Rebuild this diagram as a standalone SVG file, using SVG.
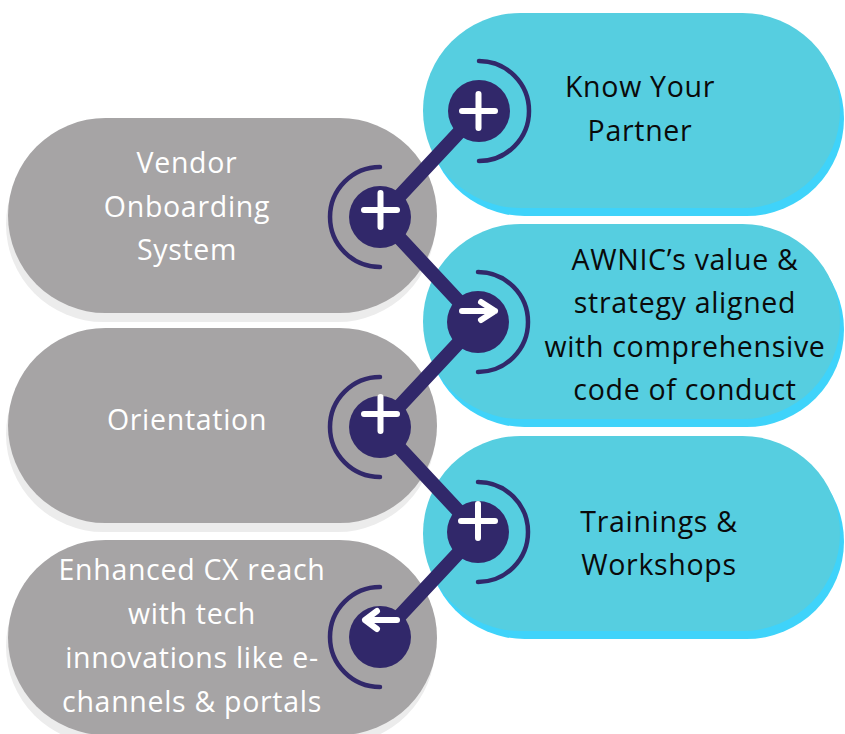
<svg xmlns="http://www.w3.org/2000/svg" width="845" height="734" viewBox="0 0 845 734">
<defs>
<style>
.cy{fill:#56CEE0}
.cys{fill:#3FD3FA}
.gr{fill:#A6A4A5}
.grs{fill:#ECECEC}
.dot{fill:#31286A}
.arc{fill:none;stroke:#31286A;stroke-width:4.5;stroke-linecap:round}
.link{stroke:#31286A;stroke-width:14;stroke-linecap:round}
.icon{fill:none;stroke:#FFFFFF;stroke-width:6;stroke-linecap:round;stroke-linejoin:round}
.tb{font-family:"Open Sans","Liberation Sans",sans-serif;font-size:28.5px;letter-spacing:0.7px;fill:#0A0A0A;text-anchor:middle}
.tw{font-family:"Open Sans","Liberation Sans",sans-serif;font-size:28.5px;letter-spacing:0.7px;fill:#FFFFFF;text-anchor:middle}
</style>
</defs>
<rect width="845" height="734" fill="#FFFFFF"/>

<g id="node-know-your-partner">
<rect class="cys" x="427" y="21" width="417" height="195" rx="97.5"/>
<rect class="cy" x="423" y="13" width="417" height="195" rx="97.5"/>
<text class="tb" x="640" y="97">Know Your</text>
<text class="tb" x="640" y="141">Partner</text>
</g>

<g id="node-awnic-value">
<rect class="cys" x="427" y="232" width="417" height="195" rx="97.5"/>
<rect class="cy" x="423" y="224" width="417" height="195" rx="97.5"/>
<text class="tb" x="685" y="270">AWNIC’s value &amp;</text>
<text class="tb" x="685" y="313">strategy aligned</text>
<text class="tb" x="685" y="357">with comprehensive</text>
<text class="tb" x="685" y="400">code of conduct</text>
</g>

<g id="node-trainings">
<rect class="cys" x="427" y="444" width="417" height="195" rx="97.5"/>
<rect class="cy" x="423" y="436" width="417" height="195" rx="97.5"/>
<text class="tb" x="659" y="532">Trainings &amp;</text>
<text class="tb" x="659" y="575">Workshops</text>
</g>

<g id="node-vendor-onboarding">
<rect class="grs" x="6" y="127" width="429" height="195" rx="97.5"/>
<rect class="gr" x="8" y="118" width="429" height="195" rx="97.5"/>
<text class="tw" x="187" y="173">Vendor</text>
<text class="tw" x="187" y="217">Onboarding</text>
<text class="tw" x="187" y="260">System</text>
</g>

<g id="node-orientation">
<rect class="grs" x="6" y="337" width="429" height="195" rx="97.5"/>
<rect class="gr" x="8" y="328" width="429" height="195" rx="97.5"/>
<text class="tw" x="187" y="430">Orientation</text>
</g>

<g id="node-enhanced-cx">
<rect class="grs" x="6" y="549" width="429" height="195" rx="97.5"/>
<rect class="gr" x="8" y="540" width="429" height="195" rx="97.5"/>
<text class="tw" x="192" y="580">Enhanced CX reach</text>
<text class="tw" x="192" y="624">with tech</text>
<text class="tw" x="192" y="668">innovations like e-</text>
<text class="tw" x="192" y="712">channels &amp; portals</text>
</g>

<g id="connectors">
<line class="link" x1="479" y1="111" x2="380" y2="217"/>
<line class="link" x1="380" y1="217" x2="478" y2="322"/>
<line class="link" x1="478" y1="322" x2="380" y2="427"/>
<line class="link" x1="380" y1="427" x2="478" y2="532"/>
<line class="link" x1="478" y1="532" x2="380" y2="637"/>
</g>

<g id="marker-1">
<path class="arc" d="M479 61 A50 50 0 0 1 479 161"/>
<circle class="dot" cx="479" cy="111" r="31"/>
<path class="icon" d="M462 111 H495 M478.5 94 V128"/>
</g>
<g id="marker-2">
<path class="arc" d="M380 167 A50 50 0 0 0 380 267"/>
<circle class="dot" cx="380" cy="217" r="31"/>
<path class="icon" d="M364 210 H397 M380.5 193 V227"/>
</g>
<g id="marker-3">
<path class="arc" d="M478 272 A50 50 0 0 1 478 372"/>
<circle class="dot" cx="478" cy="322" r="31"/>
<path class="icon" d="M462 311 H495 M481 302 L495 311 L481 320"/>
</g>
<g id="marker-4">
<path class="arc" d="M380 377 A50 50 0 0 0 380 477"/>
<circle class="dot" cx="380" cy="427" r="31"/>
<path class="icon" d="M364 414 H397 M380.5 397 V431"/>
</g>
<g id="marker-5">
<path class="arc" d="M478 482 A50 50 0 0 1 478 582"/>
<circle class="dot" cx="478" cy="532" r="31"/>
<path class="icon" d="M461 521 H495 M478 504 V538"/>
</g>
<g id="marker-6">
<path class="arc" d="M380 587 A50 50 0 0 0 380 687"/>
<circle class="dot" cx="380" cy="637" r="31"/>
<path class="icon" d="M397 620 H365 M377 611 L365 620 L377 629"/>
</g>
</svg>
